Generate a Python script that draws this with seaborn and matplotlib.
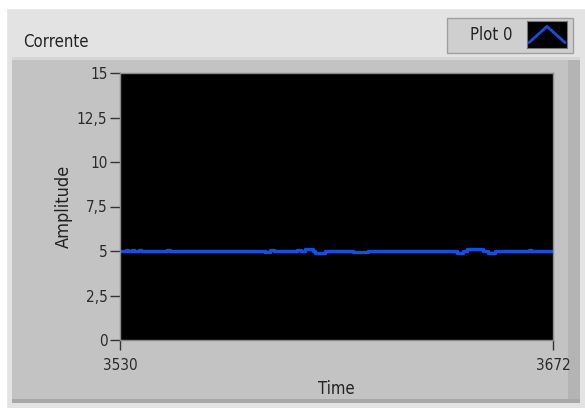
import numpy as np
import pandas as pd
import matplotlib
matplotlib.use("Agg")
import matplotlib.pyplot as plt
import seaborn as sns
from matplotlib.patches import Rectangle

# breakpoints of the trace (step-post)
time = [3530, 3532.0, 3532.6, 3534.0, 3534.6, 3536.3, 3536.9, 3545.3, 3546.5,
        3577.6, 3579.3, 3580.5, 3588.0, 3589.2, 3590.7, 3593.4, 3594.0, 3597.3,
        3606.4, 3611.3, 3640.5, 3642.6, 3643.8, 3649.1, 3650.7, 3653.0,
        3664.2, 3664.9, 3672]
amplitude = [5.0, 5.05, 5.0, 5.05, 5.0, 5.05, 5.0, 5.08, 5.0,
             4.92, 5.07, 5.0, 5.05, 5.0, 5.1, 5.0, 4.9, 5.0,
             4.92, 5.0, 4.9, 5.0, 5.1, 5.0, 4.9, 5.0,
             5.06, 5.0, 5.0]
y_ticks = [0, 2.5, 5, 7.5, 10, 12.5, 15]
y_tick_labels = ["0", "2,5", "5", "7,5", "10", "12,5", "15"]
x_ticks = [3530, 3672]
chart_title = "Corrente"
legend_label = "Plot 0"

sns.set_style("white")
plt.rcParams["font.family"] = ["DejaVu Sans"]
plt.rcParams["font.stretch"] = "condensed"

W, H = 585, 408
fig = plt.figure(figsize=(W / 100, H / 100), dpi=100, facecolor="#e3e3e3")


def px(x0, y0, w, h):
    return (x0 / W, 1 - (y0 + h) / H, w / W, h / H)


def box(x0, y0, w, h, z, **kw):
    r = px(x0, y0, w, h)
    fig.patches.append(Rectangle(r[:2], r[2], r[3], transform=fig.transFigure,
                                 zorder=z, **kw))


# page chrome
box(0, 0, W, 8, 0, color="white")
box(0, 0, 6, H, 0, color="white")
# grey panel with bevel
box(12, 57, 568, 346, 0.5, facecolor="#c3c3c3", edgecolor="none")
box(568, 57, 12, 346, 0.6, facecolor="#b4b4b4", edgecolor="none")
box(12, 57, 568, 3, 0.7, facecolor="#d6d6d6", edgecolor="none")
box(12, 399, 568, 4, 0.7, facecolor="#a8a8a8", edgecolor="none")

fig.text(23 / W, 1 - 42 / H, chart_title, fontsize=12, color="#222222", va="center")

# legend box
box(447, 18, 126, 35, 0.8, facecolor="#cfcfcf", edgecolor="#a0a0a0", lw=1)
fig.text(491 / W, 1 - 35 / H, legend_label, fontsize=12, color="#222222",
         ha="center", va="center")
lax = fig.add_axes(px(527, 21, 40, 27))
lax.set_zorder(3)
lax.set_facecolor("black")
lax.plot([0.05, 0.5, 0.95], [0.2, 0.8, 0.2], color="#1450e0", lw=2)
lax.set_xlim(0, 1)
lax.set_ylim(0, 1)
lax.set_xticks([])
lax.set_yticks([])
for s in lax.spines.values():
    s.set_color("#777777")

# main plot
ax = fig.add_axes(px(120, 73, 433, 267))
ax.set_zorder(3)
df = pd.DataFrame({"Time": time, "Amplitude": amplitude})
sns.lineplot(data=df, x="Time", y="Amplitude", ax=ax, color="#1450e0",
             lw=2.4, drawstyle="steps-post", estimator=None)
ax.set_facecolor("black")
ax.set_xlim(3530, 3672)
ax.set_ylim(0, 15)
ax.set_yticks(y_ticks)
ax.set_yticklabels(y_tick_labels)
ax.set_xticks(x_ticks)
ax.tick_params(axis="y", direction="out", length=7, width=1, color="#333333",
               labelsize=11, labelcolor="#2a2a2a", pad=2, left=True)
ax.tick_params(axis="x", direction="out", length=7, width=1, color="#333333",
               labelsize=11, labelcolor="#2a2a2a", pad=6, bottom=True)
ax.set_xlabel("Time", fontsize=12, color="#222222", labelpad=5)
ax.set_ylabel("Amplitude", fontsize=13, color="#222222", labelpad=3)
for s in ax.spines.values():
    s.set_color("#8a8a8a")
    s.set_linewidth(1)

fig.savefig("out.png", dpi=100, facecolor=fig.get_facecolor())
